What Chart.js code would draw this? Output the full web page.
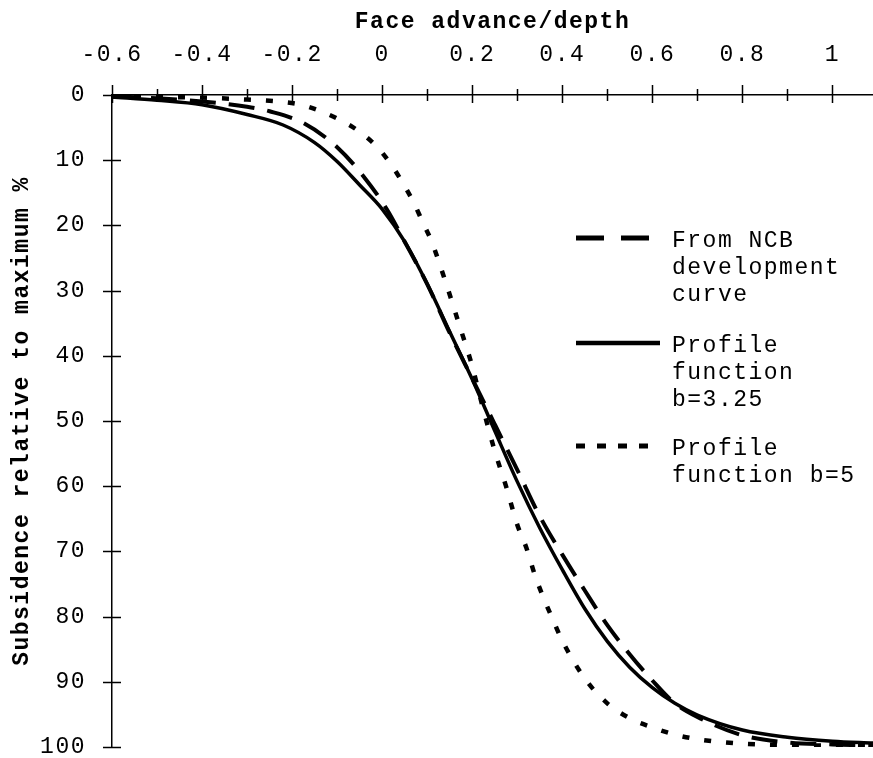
<!DOCTYPE html>
<html lang="en">
<head>
<meta charset="UTF-8" />
<title>Subsidence development</title>
<script src="https://cdn.jsdelivr.net/npm/chart.js@4.4.1/dist/chart.umd.min.js"></script>
<style>
  html, body { margin: 0; padding: 0; background: #fff; }
  #wrap { width: 873px; height: 758px; }
</style>
</head>
<body>
<div id="wrap"><canvas id="profileChart" width="873" height="758"></canvas></div>
<script>
// values: face advance/depth -> subsidence % of maximum
const ncbX = [-0.6, -0.5, -0.4, -0.3, -0.25, -0.175, -0.1, -0.04, 0.01, 0.05, 0.1, 0.15, 0.2, 0.25, 0.3, 0.35, 0.4, 0.45, 0.5, 0.55, 0.6, 0.65, 0.7, 0.8, 0.9, 1.0, 1.09];
const ncbY = [0.2, 0.5, 1.0, 1.8, 2.5, 4.3, 8.0, 12.6, 17.5, 22.5, 29, 36.5, 43.5, 50.5, 57.5, 64.6, 70.5, 76, 81.3, 85.8, 89.8, 93.3, 95.4, 98.2, 99.3, 99.6, 99.8];

const b325X = [-0.6, -0.5, -0.4, -0.3, -0.22, -0.15, -0.1, -0.05, 0, 0.05, 0.1, 0.15, 0.2, 0.25, 0.3, 0.35, 0.4, 0.45, 0.5, 0.55, 0.6, 0.65, 0.7, 0.8, 0.9, 1.0, 1.09];
const b325Y = [0.3, 0.8, 1.5, 3.0, 4.6, 7.3, 10.2, 13.8, 17.5, 22.5, 29, 36.3, 43.6, 51.5, 59.3, 66.4, 72.8, 78.8, 83.8, 87.8, 90.9, 93.3, 95.1, 97.4, 98.5, 99.1, 99.4];

const b5X = [-0.6, -0.5, -0.4, -0.3, -0.23, -0.18, -0.14, -0.1, -0.055, -0.015, 0.015, 0.045, 0.07, 0.09, 0.11, 0.14, 0.17, 0.2, 0.22, 0.25, 0.275, 0.3, 0.32, 0.34, 0.36, 0.38, 0.4, 0.45, 0.5, 0.55, 0.6, 0.65, 0.7, 0.8, 0.9, 1.0, 1.09];
const b5Y = [0.2, 0.3, 0.4, 0.7, 1.0, 1.5, 2.4, 3.6, 5.4, 7.7, 10.2, 13.4, 16.5, 19.5, 22.5, 28.5, 35, 41.6, 47, 54.6, 60, 65.9, 69.4, 73.8, 77.4, 80.6, 83.7, 89.5, 93.3, 95.6, 97.0, 98.1, 98.8, 99.5, 99.7, 99.8, 99.9];

const seriesLabels = [
    ['From NCB', 'development', 'curve'],
    ['Profile', 'function', 'b=3.25'],
    ['Profile', 'function b=5']
];
// x ticks every 0.1, labelled every 0.2
const xTickValues = [-0.6, -0.5, -0.4, -0.3, -0.2, -0.1, 0, 0.1, 0.2, 0.3, 0.4, 0.5, 0.6, 0.7, 0.8, 0.9, 1];
const xMajorTicks = [-0.6, -0.4, -0.2, 0, 0.2, 0.4, 0.6, 0.8, 1];

const FONT = "'Liberation Mono', 'Courier New', monospace";
const FONT_SIZE = 23;

function toPoints(xs, ys) {
    return xs.map((x, i) => ({ x: x, y: ys[i] }));
}

function isMajor(v) {
    return xMajorTicks.some(m => Math.abs(m - v) < 1e-6);
}

// spaced-out typewriter look of the original
const spacing = {
    id: 'spacing',
    beforeDraw(chart) {
        chart.ctx.letterSpacing = '1.5px';
    }
};

// ticks that cross the axis lines
const crossTicks = {
    id: 'crossTicks',
    afterDatasetsDraw(chart) {
        const ctx = chart.ctx;
        const xs = chart.scales.x, ys = chart.scales.y;
        const area = chart.chartArea;
        ctx.save();
        ctx.strokeStyle = '#000';
        ctx.lineWidth = 1.5;
        ctx.beginPath();
        xs.ticks.forEach(t => {
            const px = Math.round(xs.getPixelForValue(t.value)) + 0.5;
            const major = isMajor(t.value);
            const up = major ? 10 : 6, down = major ? 8 : 6;
            ctx.moveTo(px, area.top - up);
            ctx.lineTo(px, area.top + down);
        });
        ys.ticks.forEach(t => {
            const py = Math.round(ys.getPixelForValue(t.value)) + 0.5;
            ctx.moveTo(area.left - 9, py);
            ctx.lineTo(area.left + 9, py);
        });
        ctx.stroke();
        ctx.restore();
    }
};

// legend on the right, multi-line labels
const sideLegend = {
    id: 'sideLegend',
    afterDraw(chart) {
        const ctx = chart.ctx;
        const baselines = [247, 352, 455];
        ctx.save();
        ctx.letterSpacing = '1.5px';
        ctx.font = FONT_SIZE + 'px ' + FONT;
        ctx.fillStyle = '#000';
        ctx.textBaseline = 'alphabetic';
        ctx.textAlign = 'left';
        chart.data.datasets.forEach((ds, i) => {
            const base = baselines[i];
            ctx.save();
            ctx.strokeStyle = '#000';
            ctx.lineWidth = ds.legendWidth;
            ctx.setLineDash(ds.legendDash);
            ctx.beginPath();
            ctx.moveTo(576, base - 9);
            ctx.lineTo(660, base - 9);
            ctx.stroke();
            ctx.restore();
            seriesLabels[i].forEach((line, j) => {
                ctx.fillText(line, 672, base + j * 27);
            });
        });
        ctx.restore();
    }
};

new Chart(document.getElementById('profileChart'), {
    type: 'line',
    data: {
        datasets: [
            {
                label: seriesLabels[0].join(' '),
                data: toPoints(ncbX, ncbY),
                borderColor: '#000',
                borderWidth: 4,
                borderDash: [26, 13],
                legendDash: [28, 17],
                legendWidth: 5
            },
            {
                label: seriesLabels[1].join(' '),
                data: toPoints(b325X, b325Y),
                borderColor: '#000',
                borderWidth: 3.5,
                borderDash: [],
                legendDash: [],
                legendWidth: 4.5
            },
            {
                label: seriesLabels[2].join(' '),
                data: toPoints(b5X, b5Y),
                borderColor: '#000',
                borderWidth: 4.5,
                borderDash: [7, 15],
                legendDash: [9, 12],
                legendWidth: 5
            }
        ]
    },
    options: {
        responsive: false,
        animation: false,
        layout: { padding: { left: 0, right: 0, top: 0, bottom: 11 } },
        elements: {
            point: { radius: 0 },
            line: { cubicInterpolationMode: 'monotone', fill: false, borderCapStyle: 'butt' }
        },
        plugins: {
            legend: { display: false },
            tooltip: { enabled: false }
        },
        scales: {
            x: {
                type: 'linear',
                position: 'top',
                min: -0.6,
                max: 1.09,
                afterFit: (s) => { s.height = 95; s.paddingLeft = 0; s.paddingRight = 0; },
                afterBuildTicks: (s) => { s.ticks = xTickValues.map(v => ({ value: v })); },
                grid: { display: false },
                border: { display: true, color: '#000', width: 1.5 },
                ticks: {
                    autoSkip: false,
                    maxRotation: 0,
                    padding: 18,
                    color: '#000',
                    font: { family: FONT, size: FONT_SIZE },
                    callback: (v) => isMajor(v) ? String(Math.round(v * 10) / 10) : ''
                },
                title: {
                    display: true,
                    text: 'Face advance/depth',
                    color: '#000',
                    font: { family: FONT, size: FONT_SIZE, weight: 'bold' },
                    padding: { top: 8, bottom: 0 }
                }
            },
            y: {
                type: 'linear',
                reverse: true,
                min: 0,
                max: 100,
                afterFit: (s) => { s.width = 112; s.paddingTop = 0; s.paddingBottom = 0; },
                grid: { display: false },
                border: { display: true, color: '#000', width: 1.5 },
                ticks: {
                    stepSize: 10,
                    padding: 18,
                    color: '#000',
                    font: { family: FONT, size: FONT_SIZE }
                },
                title: {
                    display: true,
                    text: 'Subsidence relative to maximum %',
                    color: '#000',
                    font: { family: FONT, size: FONT_SIZE, weight: 'bold' },
                    padding: { top: 8, bottom: 0 }
                }
            }
        }
    },
    plugins: [spacing, crossTicks, sideLegend]
});
</script>
</body>
</html>
